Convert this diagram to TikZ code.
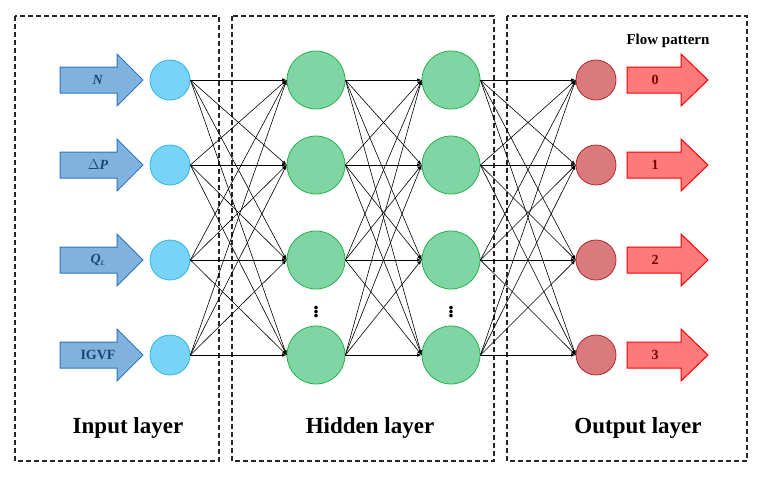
\documentclass[tikz,border=0pt]{standalone}
\usepackage{fontspec}
\setmainfont{Liberation Serif}
\definecolor{inF}{HTML}{7FB3DE}
\definecolor{inD}{HTML}{2C75BA}
\definecolor{cyF}{HTML}{78D4F6}
\definecolor{cyD}{HTML}{2AB4EA}
\definecolor{grF}{HTML}{7FD5A3}
\definecolor{grD}{HTML}{27B14B}
\definecolor{rdF}{HTML}{D97A7C}
\definecolor{rdD}{HTML}{B5262A}
\definecolor{obF}{HTML}{FF7A7A}
\begin{document}
\begin{tikzpicture}[x=1pt,y=-1pt,
  box/.style={draw=black!85,line width=1.4pt,dash pattern=on 5pt off 3pt},
  inn/.style={circle,draw=cyD,fill=cyF,line width=0.8pt,minimum size=40pt,inner sep=0pt},
  hid/.style={circle,draw=grD,fill=grF,line width=0.8pt,minimum size=58pt,inner sep=0pt},
  outn/.style={circle,draw=rdD,fill=rdF,line width=0.8pt,minimum size=40pt,inner sep=0pt},
  conn/.style={-latex,line width=0.6pt},
  ib/.style={draw=inD,fill=inF,line width=1pt},
  ob/.style={draw=red,fill=obF,line width=1pt},
  lab/.style={font=\bfseries\fontsize{23}{26}\selectfont},
  atext/.style={font=\bfseries\fontsize{14}{16}\selectfont},
  dots/.style={inner sep=0pt,font=\bfseries\fontsize{22}{22}\selectfont}]
\useasboundingbox (0,0) rectangle (767,480);
\draw[box] (15,16) rectangle (219,461);
\draw[box] (232,16) rectangle (494,461);
\draw[box] (507,16) rectangle (747,461);
\foreach \i/\y/\t/\u in {1/80/{\textit{N}}/0,2/165/{$\Delta$\textit{P}}/1,3/260/{\textit{Q}$_{\textit{\scriptsize L}}$}/2,4/355/IGVF/3}{
  \node[inn] (i\i) at (170,\y) {};
  \node[hid] (a\i) at (316,\y) {};
  \node[hid] (b\i) at (451,\y) {};
  \node[outn] (o\i) at (596,\y) {};
  \draw[ib] (60,\y-13) -- (117,\y-13) -- (117,\y-26) -- (143,\y) -- (117,\y+26) -- (117,\y+13) -- (60,\y+13) -- cycle;
  \draw[ob] (627,\y-13) -- (681,\y-13) -- (681,\y-26) -- (708,\y) -- (681,\y+26) -- (681,\y+13) -- (627,\y+13) -- cycle;
  \node[atext,text=inD!60!black] (it\i) at (98,\y) {\t};
  \node[atext,text=red!45!black] (ot\i) at (655,\y) {\u};
}
\foreach \s in {1,...,4}{\foreach \t in {1,...,4}{
  \draw[conn] (i\s.east) -- (a\t.west);
  \draw[conn] (a\s.east) -- (b\t.west);
  \draw[conn] (b\s.east) -- (o\t.west);
}}
\node[dots] (d1) at (316,309) {$\vdots$};
\node[dots] (d2) at (451,309) {$\vdots$};
\node[lab] (l1) at (128,428) {Input layer};
\node[lab] (l2) at (370,428) {Hidden layer};
\node[lab] (l3) at (638,428) {Output layer};
\node[font=\bfseries\fontsize{15}{17}\selectfont] (fp) at (668,41) {Flow pattern};
\end{tikzpicture}
\end{document}
